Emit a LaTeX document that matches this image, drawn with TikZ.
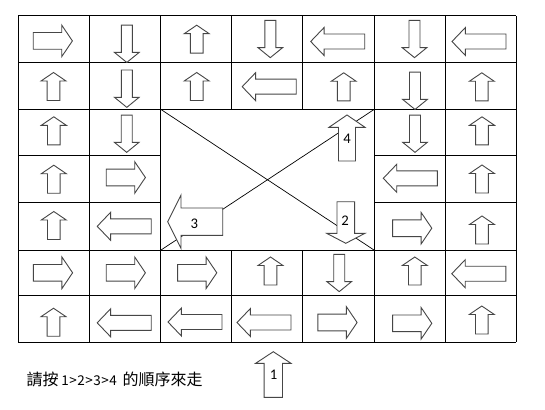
\documentclass[tikz,border=0pt]{standalone}
\usepackage{fontspec}
\setmainfont{Carlito}
\newfontfamily\cjk{Noto Sans CJK TC}
\tikzset{
  gridline/.style={draw=black, line width=1pt},
  diagline/.style={draw=black, line width=0.7pt},
  arrowshape/.style={draw={rgb,255:red,70;green,70;blue,70}, fill=white, line width=0.9pt, line join=miter},
  numlabel/.style={font=\fontsize{14.7}{16}\selectfont, inner sep=0pt},
}
% horizontal block arrow: x, y, dir(+1 right/-1 left), length, head width, shaft width, head length
\newcommand\harr[7]{%
  \draw[arrowshape] ({#1-(#3)*#4/2},{#2-#6/2}) -- ({#1+(#3)*(#4/2-#7)},{#2-#6/2})
    -- ({#1+(#3)*(#4/2-#7)},{#2-#5/2}) -- ({#1+(#3)*#4/2},#2)
    -- ({#1+(#3)*(#4/2-#7)},{#2+#5/2}) -- ({#1+(#3)*(#4/2-#7)},{#2+#6/2})
    -- ({#1-(#3)*#4/2},{#2+#6/2}) -- cycle;}
% vertical block arrow: x, y, dir(+1 down/-1 up), length, head width, shaft width, head length
\newcommand\varr[7]{%
  \draw[arrowshape] ({#1-#6/2},{#2-(#3)*#4/2}) -- ({#1-#6/2},{#2+(#3)*(#4/2-#7)})
    -- ({#1-#5/2},{#2+(#3)*(#4/2-#7)}) -- (#1,{#2+(#3)*#4/2})
    -- ({#1+#5/2},{#2+(#3)*(#4/2-#7)}) -- ({#1+#6/2},{#2+(#3)*(#4/2-#7)})
    -- ({#1+#6/2},{#2-(#3)*#4/2}) -- cycle;}
\newcommand\arR[2]{\harr{#1}{#2}{1}{39.2}{31.6}{16.7}{10.7}}
\newcommand\arL[2]{\harr{#1}{#2}{-1}{54}{28}{15}{13.4}}
\newcommand\arU[2]{\varr{#1}{#2}{-1}{28}{25}{12.7}{8.5}}
\newcommand\arD[2]{\varr{#1}{#2}{1}{37.3}{24.6}{11}{10}}
% half-width character box for the caption
\newcommand\hwc[1]{\makebox[8pt]{\fontsize{13.5}{15}\selectfont #1}}
\begin{document}
\begin{tikzpicture}[x=1pt, y=-1pt]
\useasboundingbox (0,0) rectangle (545,409);
\fill[white] (0,0) rectangle (545,409);
% grid coordinates
\def\xa{18.3}\def\xb{89.3}\def\xc{160.7}\def\xd{231.7}\def\xe{302.7}\def\xf{374.3}\def\xg{445.7}\def\xh{516.3}
\def\ya{16}\def\yb{63}\def\yc{109.3}\def\yd{155.3}\def\ye{202.2}\def\yf{250.2}\def\yg{295.2}\def\yh{342}
\coordinate (TL) at (\xc,\yc);
\coordinate (TR) at (\xf,\yc);
\coordinate (BL) at (\xc,\yf);
\coordinate (BR) at (\xf,\yf);
% horizontal lines
\foreach \yy in {\ya,\yb,\yc,\yf,\yg,\yh} \draw[gridline] (\xa,\yy) -- (\xh,\yy);
\foreach \yy in {\yd,\ye} {\draw[gridline] (\xa,\yy) -- (\xc,\yy); \draw[gridline] (\xf,\yy) -- (\xh,\yy);}
% vertical lines
\foreach \xx in {\xa,\xb,\xc,\xf,\xg,\xh} \draw[gridline] (\xx,\ya) -- (\xx,\yh);
\foreach \xx in {\xd,\xe} {\draw[gridline] (\xx,\ya) -- (\xx,\yc); \draw[gridline] (\xx,\yf) -- (\xx,\yh);}
% diagonals of the centre
\draw[diagline] (TL) -- (BR);
\draw[diagline] (BL) -- (TR);
% row 0
\arR{52.8}{40.9} \arD{126.8}{43.8} \arU{196.7}{39.2} \arD{270.3}{39}
\arL{337.7}{41.5} \arD{414.5}{39} \arL{479}{41.5}
% row 1
\arU{53.5}{86.5} \arD{126.8}{88.7} \arU{196.7}{86.5} \arL{269.2}{86.7}
\arU{343.7}{86.8} \arD{415}{90.8} \arU{481.8}{86.8}
% row 2
\arU{53.8}{130.8} \arD{126.7}{133.7} \arD{415}{133.7} \arU{482}{130.8}
% row 3
\arU{53.8}{179.2} \arR{125.8}{177.5} \arL{410.3}{178.3} \arU{482}{179}
% row 4
\arU{53.8}{225.5} \arL{124.2}{226.3} \arR{412.2}{228.2} \arU{482}{230}
% row 5
\arR{53}{272.8} \arR{125.8}{272.8} \arR{197.2}{272.8} \arU{270.5}{271}
\arD{339.2}{273} \arU{414.8}{271} \arL{478.8}{273.7}
% row 6
\arU{53.5}{322.2} \arL{124.2}{322.8} \arL{195}{322} \arL{264}{322.5}
\arR{337.5}{322.5} \arR{412.2}{323.3} \arU{481.8}{320}
% numbered arrows
\varr{347}{138}{-1}{46}{36}{17}{12.3}
\varr{345.8}{222.5}{1}{41.6}{38.3}{17.6}{10}
\harr{195.2}{221.7}{-1}{55}{53.3}{27.4}{13.3}
\varr{273.3}{374.5}{-1}{45.6}{35.3}{18.3}{11.6}
\node[numlabel] (n4) at (347,138.3) {4};
\node[numlabel] (n2) at (345,220.3) {2};
\node[numlabel] (n3) at (194.3,224) {3};
\node[numlabel] (n1) at (273.7,374.7) {1};
% caption
\node[anchor=base west, inner sep=0pt, font=\cjk\fontsize{16}{18}\selectfont] (caption) at (26.5,385)
  {請按\hspace{2.5pt}\hwc{1}\hwc{>}\hwc{2}\hwc{>}\hwc{3}\hwc{>}\hwc{4}\hspace{5.5pt}的順序來走};
\end{tikzpicture}
\end{document}
